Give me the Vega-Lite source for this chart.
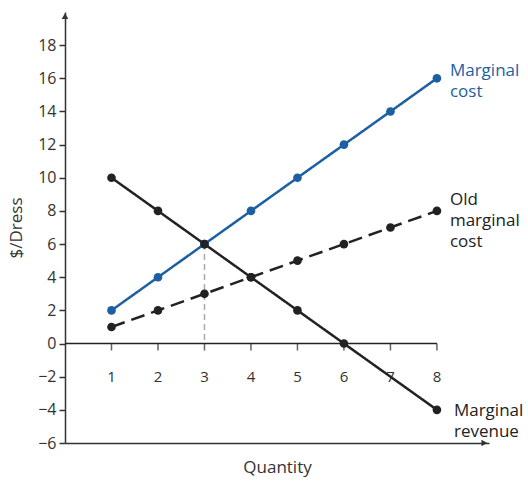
{
  "$schema": "https://vega.github.io/schema/vega-lite/v6.json",
  "width": 424,
  "height": 431,
  "autosize": {"type": "none"},
  "padding": {"left": 65, "top": 12, "right": 39, "bottom": 38},
  "background": "white",
  "config": {
    "view": {"stroke": null},
    "font": "Open Sans",
    "axisY": {"labelOverlap": false, "labelFlush": false, "labelBound": false, "grid": false,
      "tickSize": 6, "tickWidth": 1.5, "tickColor": "#333333", "domainColor": "#333333", "domainWidth": 1.5,
      "labelPadding": 3, "labelFontSize": 16, "labelColor": "#333333", "labelFont": "Open Sans",
      "titlePadding": 12, "titleFontSize": 17, "titleFontWeight": "normal", "titleColor": "#333333", "titleFont": "Open Sans"},
    "axisX": {"labels": false, "ticks": false, "grid": false, "domainColor": "#333333", "domainWidth": 1.5,
      "titlePadding": 16, "titleFontSize": 17, "titleFontWeight": "normal", "titleColor": "#333333", "titleFont": "Open Sans"}
  },
  "datasets": {
    "curves": [
      {"q": 1, "v": 2, "s": "mc"}, {"q": 2, "v": 4, "s": "mc"}, {"q": 3, "v": 6, "s": "mc"}, {"q": 4, "v": 8, "s": "mc"},
      {"q": 5, "v": 10, "s": "mc"}, {"q": 6, "v": 12, "s": "mc"}, {"q": 7, "v": 14, "s": "mc"}, {"q": 8, "v": 16, "s": "mc"},
      {"q": 1, "v": 1, "s": "old"}, {"q": 2, "v": 2, "s": "old"}, {"q": 3, "v": 3, "s": "old"}, {"q": 4, "v": 4, "s": "old"},
      {"q": 5, "v": 5, "s": "old"}, {"q": 6, "v": 6, "s": "old"}, {"q": 7, "v": 7, "s": "old"}, {"q": 8, "v": 8, "s": "old"},
      {"q": 1, "v": 10, "s": "mr"}, {"q": 2, "v": 8, "s": "mr"}, {"q": 3, "v": 6, "s": "mr"}, {"q": 4, "v": 4, "s": "mr"},
      {"q": 5, "v": 2, "s": "mr"}, {"q": 6, "v": 0, "s": "mr"}, {"q": 7, "v": -2, "s": "mr"}, {"q": 8, "v": -4, "s": "mr"}
    ]
  },
  "data": {"name": "curves"},
  "encoding": {
    "x": {"field": "q", "type": "quantitative", "scale": {"domain": [0, 9.12], "nice": false, "zero": false},
      "axis": {"title": "Quantity"}},
    "y": {"field": "v", "type": "quantitative", "scale": {"domain": [-6, 20], "nice": false, "zero": false},
      "axis": {"title": "$/Dress", "values": [-6, -4, -2, 0, 2, 4, 6, 8, 10, 12, 14, 16, 18], "labelOverlap": false, "labelFontSize": 16}}
  },
  "layer": [
    {
      "transform": [{"filter": "datum.s == 'mc' && datum.q == 3"}],
      "mark": {"type": "rule", "color": "#aaaaaa", "strokeWidth": 1.5, "strokeDash": [6, 4]},
      "encoding": {
        "y2": {"datum": 0}
      }
    },
    {
      "transform": [{"filter": "datum.s == 'mc' && datum.q == 8"}],
      "mark": {"type": "rule", "color": "#222222", "strokeWidth": 1.5},
      "encoding": {
        "x2": {"datum": 0},
        "y": {"datum": 0, "type": "quantitative"}
      }
    },
    {
      "transform": [{"filter": "datum.s == 'mr'"}],
      "mark": {"type": "tick", "orient": "vertical", "color": "#222222", "thickness": 1.5, "size": 7, "yOffset": 3.5},
      "encoding": {
        "y": {"datum": 0, "type": "quantitative"}
      }
    },
    {
      "transform": [{"filter": "datum.s == 'mr'"}],
      "mark": {"type": "text", "fontSize": 15, "color": "#333333", "baseline": "middle", "align": "center"},
      "encoding": {
        "y": {"datum": -2, "type": "quantitative"},
        "text": {"field": "q", "type": "quantitative"}
      }
    },
    {
      "mark": {"type": "line", "strokeWidth": 2.5},
      "encoding": {
        "detail": {"field": "s"},
        "color": {"field": "s", "type": "nominal", "scale": {"domain": ["mc", "old", "mr"], "range": ["#1c5fa3", "#222222", "#222222"]}, "legend": null},
        "strokeDash": {"field": "s", "type": "nominal", "scale": {"domain": ["mc", "old", "mr"], "range": [[1, 0], [14, 7], [1, 0]]}, "legend": null}
      }
    },
    {
      "transform": [{"filter": "!(datum.s == 'mr' && datum.q == 7)"}],
      "mark": {"type": "circle", "size": 75, "opacity": 1},
      "encoding": {
        "color": {"field": "s", "type": "nominal", "scale": {"domain": ["mc", "old", "mr"], "range": ["#1c5fa3", "#222222", "#222222"]}, "legend": null}
      }
    },
    {
      "transform": [{"filter": "datum.s == 'mc' && datum.q == 8"}],
      "mark": {"type": "text", "align": "left", "baseline": "alphabetic", "dx": 13, "dy": -2, "fontSize": 17, "lineHeight": 21, "color": "#1c5fa3", "text": ["Marginal", "cost"]}
    },
    {
      "transform": [{"filter": "datum.s == 'old' && datum.q == 8"}],
      "mark": {"type": "text", "align": "left", "baseline": "alphabetic", "dx": 13, "dy": -6, "fontSize": 17, "lineHeight": 21, "color": "#222222", "text": ["Old", "marginal", "cost"]}
    },
    {
      "transform": [{"filter": "datum.s == 'mr' && datum.q == 8"}],
      "mark": {"type": "text", "align": "left", "baseline": "alphabetic", "dx": 17, "dy": 6.5, "fontSize": 17, "lineHeight": 21, "color": "#222222", "text": ["Marginal", "revenue"]}
    },
    {
      "transform": [{"filter": "datum.s == 'mc' && datum.q == 8"}],
      "mark": {"type": "point", "shape": "triangle-up", "filled": true, "size": 45, "color": "#333333", "opacity": 1},
      "encoding": {
        "x": {"datum": 0, "type": "quantitative"},
        "y": {"datum": 19.75, "type": "quantitative"}
      }
    },
    {
      "transform": [{"filter": "datum.s == 'mc' && datum.q == 8"}],
      "mark": {"type": "point", "shape": "triangle-right", "filled": true, "size": 45, "color": "#333333", "opacity": 1},
      "encoding": {
        "x": {"datum": 9.02, "type": "quantitative"},
        "y": {"datum": -6, "type": "quantitative"}
      }
    }
  ]
}
